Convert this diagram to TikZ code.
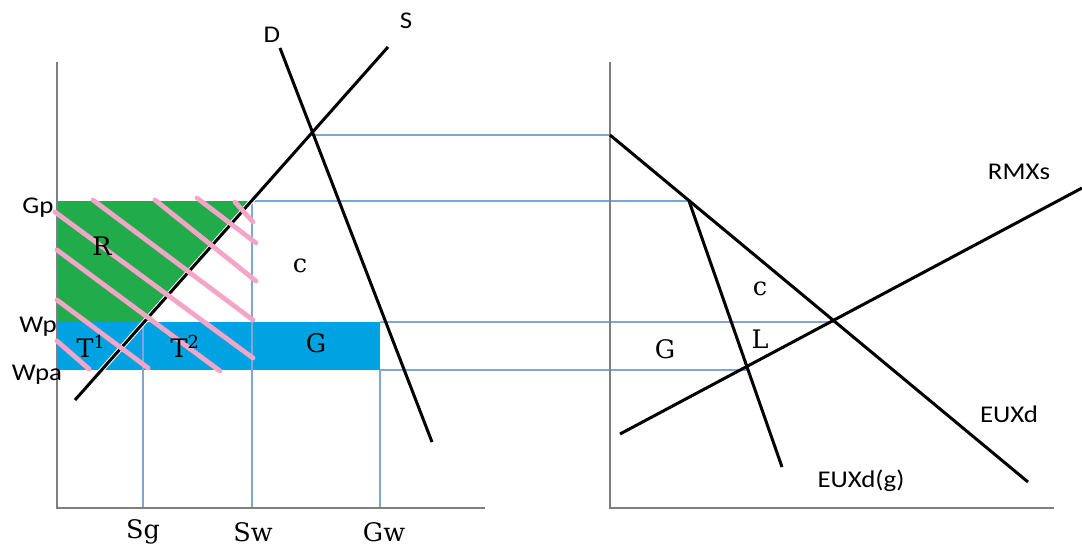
\documentclass[tikz,border=0pt]{standalone}
\usepackage{fontspec}
\usepackage{xcolor}
\usepackage{tikz}
\usetikzlibrary{calc}
\newfontfamily\calibri{Carlito}
\newfontfamily\cambria{DejaVu Serif}
\newcommand{\wide}[1]{\scalebox{1.12}[1]{#1}}

\begin{document}
\begin{tikzpicture}[x=1pt,y=-1pt,
    axisline/.style={draw=axiscolor,line width=2pt},
    guide/.style={draw=guidecolor,line width=1.1pt},
    curve/.style={draw=black,line width=3pt},
    hatch/.style={draw=hatchcolor,line width=4.8pt,line cap=round},
    sanslabel/.style={font=\calibri\fontsize{24}{28}\selectfont},
    seriflabel/.style={font=\cambria\fontsize{25.5}{30}\selectfont}]
    \definecolor{axiscolor}{HTML}{7F7F7F}
    \definecolor{guidecolor}{HTML}{7FA6D6}
    \definecolor{greenfill}{HTML}{22AB4A}
    \definecolor{bluefill}{HTML}{00A2E2}
    \definecolor{hatchcolor}{HTML}{F5A6C8}
    \useasboundingbox (0,0) rectangle (1082,552);

    % left panel
    \coordinate (LO) at (57,508);
    \coordinate (LT) at (57,62);
    \coordinate (LR) at (485,508);
    \coordinate (S0) at (75,400);
    \coordinate (S1) at (388,47);
    \coordinate (D0) at (280,48);
    \coordinate (D1) at (432,442);
    \coordinate (E) at (312,135);
    \coordinate (GpA) at (57,201);
    \coordinate (GpS) at (251,201);
    \coordinate (WpS) at (144,322);
    \coordinate (WpA) at (57,322);
    \coordinate (WpG) at (380,322);
    \coordinate (WpaG) at (380,370);
    \coordinate (SgT) at (143,322);
    \coordinate (SgB) at (143,508);
    \coordinate (SwT) at (252,201);
    \coordinate (SwB) at (252,508);
    \coordinate (GwB) at (380,508);

    % right panel
    \coordinate (RO) at (610,508);
    \coordinate (RT) at (610,62);
    \coordinate (RR) at (1054,508);
    \coordinate (X0) at (610,135);
    \coordinate (X1) at (1028,482);
    \coordinate (Xg0) at (689,201);
    \coordinate (Xg1) at (782,467);
    \coordinate (M0) at (620,434);
    \coordinate (M1) at (1082,188);
    \coordinate (Ewp) at (836,322);
    \coordinate (Ewpa) at (747,370);

    \fill[greenfill] (GpA) -- (GpS) -- (WpS) -- (WpA) -- cycle;
    \fill[bluefill] (WpA) rectangle (WpaG);

    \draw[guide] (E) -- (X0);
    \draw[guide] (GpS) -- (Xg0);
    \draw[guide] (WpG) -- (Ewp);
    \draw[guide] (WpaG) -- (Ewpa);
    \draw[guide] (SgT) -- (SgB);
    \draw[guide] (SwT) -- (SwB);
    \draw[guide] (WpaG) -- (GwB);

    \draw[axisline] (LT) -- (LO) -- (LR);
    \draw[axisline] (RT) -- (RO) -- (RR);

    \draw[white,line width=5pt] (S0) -- (S1);
    \draw[curve] (S0) -- (S1);
    \draw[curve] (D0) -- (D1);
    \draw[curve] (X0) -- (X1);
    \draw[curve] (Xg0) -- (Xg1);
    \draw[curve] (M0) -- (M1);

    \draw[hatch] (57,341) -- (89,369);
    \draw[hatch] (57,300) -- (148,368);
    \draw[hatch] (57,250) -- (220,371);
    \draw[hatch] (55,212) -- (253,358);
    \draw[hatch] (93,200) -- (253,320);
    \draw[hatch] (155,200) -- (256,281);
    \draw[hatch] (197,198) -- (256,243);
    \draw[hatch] (235,202) -- (253,222);

    \node[sanslabel] (Dlbl) at (272,35) {\wide{D}};
    \node[sanslabel] (Slbl) at (406,21) {\wide{S}};
    \node[sanslabel] (Gplbl) at (38,208) {\wide{Gp}};
    \node[sanslabel] (Wplbl) at (38,327) {\wide{Wp}};
    \node[sanslabel] (Wpalbl) at (37,375) {\wide{Wpa}};
    \node[seriflabel] (Rlbl) at (102,246) {R};
    \node[seriflabel] (clbl) at (300,266) {c};
    \node[seriflabel] (Glbl) at (316,343) {G};
    \node[seriflabel] (T1lbl) at (91,346) {T\textsuperscript{1}};
    \node[seriflabel] (T2lbl) at (185,346) {T\textsuperscript{2}};
    \node[seriflabel] (Sglbl) at (143,532) {Sg};
    \node[seriflabel] (Swlbl) at (253,532) {Sw};
    \node[seriflabel] (Gwlbl) at (384,532) {Gw};

    \node[sanslabel] (RMXslbl) at (1019,172) {\wide{RMXs}};
    \node[sanslabel] (EUXdlbl) at (1009,414) {\wide{EUXd}};
    \node[sanslabel] (EUXdglbl) at (861,481) {\wide{EUXd(g)}};
    \node[seriflabel] (crlbl) at (760,289) {c};
    \node[seriflabel] (Lrlbl) at (760,339) {L};
    \node[seriflabel] (Grlbl) at (665,349) {G};
\end{tikzpicture}
\end{document}
